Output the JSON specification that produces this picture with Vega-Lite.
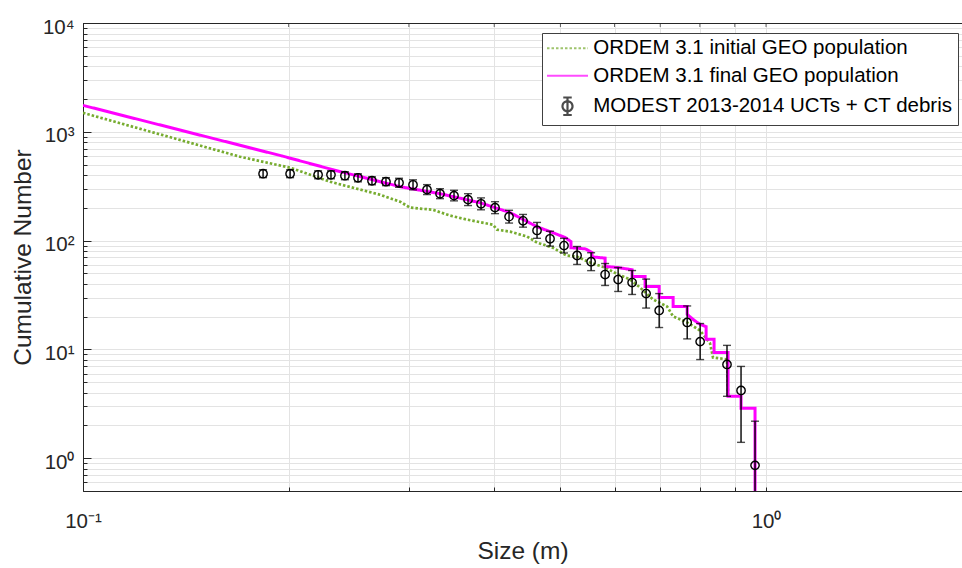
{
  "$schema": "https://vega.github.io/schema/vega-lite/v6.json",
  "autosize": {"type": "none"},
  "padding": {"left": 83, "top": 23, "right": 0, "bottom": 77},
  "width": 879,
  "height": 468,
  "config": {
    "font": "Liberation Sans",
    "view": {"stroke": null},
    "axis": {"labelFont": "Liberation Sans", "titleFont": "Liberation Sans"}
  },
  "datasets": {
    "xticks": [
      {"x": 0.2}, {"x": 0.3}, {"x": 0.4}, {"x": 0.5}, {"x": 0.6}, {"x": 0.7}, {"x": 0.8}, {"x": 0.9}, {"x": 1}
    ],
    "lines": [
      {"s": "ORDEM 3.1 initial GEO population", "i": 1, "x": 0.1, "y": 1494},
      {"s": "ORDEM 3.1 initial GEO population", "i": 2, "x": 0.1698, "y": 590},
      {"s": "ORDEM 3.1 initial GEO population", "i": 3, "x": 0.201, "y": 468},
      {"s": "ORDEM 3.1 initial GEO population", "i": 4, "x": 0.2299, "y": 348},
      {"s": "ORDEM 3.1 initial GEO population", "i": 5, "x": 0.2722, "y": 264},
      {"s": "ORDEM 3.1 initial GEO population", "i": 6, "x": 0.2912, "y": 228},
      {"s": "ORDEM 3.1 initial GEO population", "i": 7, "x": 0.3012, "y": 201},
      {"s": "ORDEM 3.1 initial GEO population", "i": 8, "x": 0.3254, "y": 192},
      {"s": "ORDEM 3.1 initial GEO population", "i": 9, "x": 0.3445, "y": 170},
      {"s": "ORDEM 3.1 initial GEO population", "i": 10, "x": 0.3649, "y": 156},
      {"s": "ORDEM 3.1 initial GEO population", "i": 11, "x": 0.3984, "y": 140},
      {"s": "ORDEM 3.1 initial GEO population", "i": 12, "x": 0.4038, "y": 126},
      {"s": "ORDEM 3.1 initial GEO population", "i": 13, "x": 0.4219, "y": 121},
      {"s": "ORDEM 3.1 initial GEO population", "i": 14, "x": 0.4467, "y": 109},
      {"s": "ORDEM 3.1 initial GEO population", "i": 15, "x": 0.4621, "y": 96},
      {"s": "ORDEM 3.1 initial GEO population", "i": 16, "x": 0.4876, "y": 86},
      {"s": "ORDEM 3.1 initial GEO population", "i": 17, "x": 0.511, "y": 72.8},
      {"s": "ORDEM 3.1 initial GEO population", "i": 18, "x": 0.5289, "y": 71.2},
      {"s": "ORDEM 3.1 initial GEO population", "i": 19, "x": 0.5526, "y": 62.8},
      {"s": "ORDEM 3.1 initial GEO population", "i": 20, "x": 0.5813, "y": 56.5},
      {"s": "ORDEM 3.1 initial GEO population", "i": 21, "x": 0.6074, "y": 48.8},
      {"s": "ORDEM 3.1 initial GEO population", "i": 22, "x": 0.6325, "y": 43.9},
      {"s": "ORDEM 3.1 initial GEO population", "i": 23, "x": 0.6541, "y": 37.0},
      {"s": "ORDEM 3.1 initial GEO population", "i": 24, "x": 0.6832, "y": 28.8},
      {"s": "ORDEM 3.1 initial GEO population", "i": 25, "x": 0.7163, "y": 24.8},
      {"s": "ORDEM 3.1 initial GEO population", "i": 26, "x": 0.7311, "y": 20.1},
      {"s": "ORDEM 3.1 initial GEO population", "i": 27, "x": 0.7666, "y": 17.7},
      {"s": "ORDEM 3.1 initial GEO population", "i": 28, "x": 0.8008, "y": 14.9},
      {"s": "ORDEM 3.1 initial GEO population", "i": 29, "x": 0.8279, "y": 11.4},
      {"s": "ORDEM 3.1 initial GEO population", "i": 30, "x": 0.8363, "y": 8.44},
      {"s": "ORDEM 3.1 initial GEO population", "i": 31, "x": 0.8767, "y": 8.1},
      {"s": "ORDEM 3.1 initial GEO population", "i": 32, "x": 0.8798, "y": 3.71},
      {"s": "ORDEM 3.1 final GEO population", "i": 1, "x": 0.1, "y": 1750},
      {"s": "ORDEM 3.1 final GEO population", "i": 2, "x": 0.1956, "y": 600},
      {"s": "ORDEM 3.1 final GEO population", "i": 3, "x": 0.2323, "y": 448},
      {"s": "ORDEM 3.1 final GEO population", "i": 4, "x": 0.2912, "y": 313},
      {"s": "ORDEM 3.1 final GEO population", "i": 5, "x": 0.3332, "y": 270},
      {"s": "ORDEM 3.1 final GEO population", "i": 6, "x": 0.3813, "y": 223},
      {"s": "ORDEM 3.1 final GEO population", "i": 7, "x": 0.4219, "y": 181},
      {"s": "ORDEM 3.1 final GEO population", "i": 8, "x": 0.4621, "y": 134},
      {"s": "ORDEM 3.1 final GEO population", "i": 9, "x": 0.4828, "y": 121},
      {"s": "ORDEM 3.1 final GEO population", "i": 10, "x": 0.5078, "y": 107},
      {"s": "ORDEM 3.1 final GEO population", "i": 11, "x": 0.5181, "y": 98},
      {"s": "ORDEM 3.1 final GEO population", "i": 12, "x": 0.5181, "y": 86},
      {"s": "ORDEM 3.1 final GEO population", "i": 13, "x": 0.5437, "y": 84},
      {"s": "ORDEM 3.1 final GEO population", "i": 14, "x": 0.5562, "y": 78},
      {"s": "ORDEM 3.1 final GEO population", "i": 15, "x": 0.5562, "y": 71},
      {"s": "ORDEM 3.1 final GEO population", "i": 16, "x": 0.5813, "y": 69},
      {"s": "ORDEM 3.1 final GEO population", "i": 17, "x": 0.5813, "y": 58},
      {"s": "ORDEM 3.1 final GEO population", "i": 18, "x": 0.6074, "y": 56.5},
      {"s": "ORDEM 3.1 final GEO population", "i": 19, "x": 0.6367, "y": 54},
      {"s": "ORDEM 3.1 final GEO population", "i": 20, "x": 0.6367, "y": 46.7},
      {"s": "ORDEM 3.1 final GEO population", "i": 21, "x": 0.6652, "y": 46.7},
      {"s": "ORDEM 3.1 final GEO population", "i": 22, "x": 0.6652, "y": 37.9},
      {"s": "ORDEM 3.1 final GEO population", "i": 23, "x": 0.6975, "y": 37.9},
      {"s": "ORDEM 3.1 final GEO population", "i": 24, "x": 0.6975, "y": 30},
      {"s": "ORDEM 3.1 final GEO population", "i": 25, "x": 0.7311, "y": 30},
      {"s": "ORDEM 3.1 final GEO population", "i": 26, "x": 0.7311, "y": 24.8},
      {"s": "ORDEM 3.1 final GEO population", "i": 27, "x": 0.7666, "y": 24.8},
      {"s": "ORDEM 3.1 final GEO population", "i": 28, "x": 0.7666, "y": 21},
      {"s": "ORDEM 3.1 final GEO population", "i": 29, "x": 0.785, "y": 18.5},
      {"s": "ORDEM 3.1 final GEO population", "i": 30, "x": 0.8008, "y": 17},
      {"s": "ORDEM 3.1 final GEO population", "i": 31, "x": 0.8171, "y": 16.2},
      {"s": "ORDEM 3.1 final GEO population", "i": 32, "x": 0.8171, "y": 12.4},
      {"s": "ORDEM 3.1 final GEO population", "i": 33, "x": 0.8393, "y": 12.4},
      {"s": "ORDEM 3.1 final GEO population", "i": 34, "x": 0.8393, "y": 9.39},
      {"s": "ORDEM 3.1 final GEO population", "i": 35, "x": 0.8798, "y": 9.39},
      {"s": "ORDEM 3.1 final GEO population", "i": 36, "x": 0.8798, "y": 3.71},
      {"s": "ORDEM 3.1 final GEO population", "i": 37, "x": 0.9192, "y": 3.71},
      {"s": "ORDEM 3.1 final GEO population", "i": 38, "x": 0.9192, "y": 2.88},
      {"s": "ORDEM 3.1 final GEO population", "i": 39, "x": 0.9636, "y": 2.88},
      {"s": "ORDEM 3.1 final GEO population", "i": 40, "x": 0.9636, "y": 0.3}
    ],
    "modest": [
      {"x": 0.1835, "y": 412, "lo": 379, "hi": 448},
      {"x": 0.2010, "y": 412, "lo": 379, "hi": 448},
      {"x": 0.2209, "y": 403, "lo": 370, "hi": 438},
      {"x": 0.2307, "y": 403, "lo": 370, "hi": 438},
      {"x": 0.2418, "y": 395, "lo": 363, "hi": 430},
      {"x": 0.2527, "y": 378, "lo": 347, "hi": 411},
      {"x": 0.2649, "y": 355, "lo": 326, "hi": 386},
      {"x": 0.2777, "y": 348, "lo": 320, "hi": 379},
      {"x": 0.2902, "y": 340, "lo": 309, "hi": 374},
      {"x": 0.3042, "y": 326, "lo": 293, "hi": 362},
      {"x": 0.3189, "y": 294, "lo": 265, "hi": 327},
      {"x": 0.3332, "y": 270, "lo": 243, "hi": 300},
      {"x": 0.3493, "y": 259, "lo": 232, "hi": 290},
      {"x": 0.3662, "y": 238, "lo": 210, "hi": 270},
      {"x": 0.3826, "y": 218, "lo": 192, "hi": 247},
      {"x": 0.4011, "y": 201, "lo": 177, "hi": 228},
      {"x": 0.4205, "y": 166, "lo": 145, "hi": 190},
      {"x": 0.4408, "y": 152, "lo": 133, "hi": 174},
      {"x": 0.4621, "y": 124, "lo": 105, "hi": 147},
      {"x": 0.4828, "y": 104, "lo": 89, "hi": 122},
      {"x": 0.5061, "y": 90, "lo": 77, "hi": 105},
      {"x": 0.5289, "y": 73, "lo": 60.4, "hi": 88.3},
      {"x": 0.5545, "y": 64, "lo": 53, "hi": 77.4},
      {"x": 0.5813, "y": 48.8, "lo": 38.7, "hi": 61.6},
      {"x": 0.6074, "y": 43.9, "lo": 34.1, "hi": 56.6},
      {"x": 0.6367, "y": 41.2, "lo": 32.0, "hi": 53.1},
      {"x": 0.6675, "y": 32.6, "lo": 24.0, "hi": 44.3},
      {"x": 0.6975, "y": 22.8, "lo": 15.9, "hi": 32.6},
      {"x": 0.7666, "y": 17.7, "lo": 12.5, "hi": 25.1},
      {"x": 0.8008, "y": 11.8, "lo": 8.07, "hi": 17.3},
      {"x": 0.8767, "y": 7.28, "lo": 3.71, "hi": 10.9},
      {"x": 0.9192, "y": 4.2, "lo": 1.40, "hi": 6.98},
      {"x": 0.9636, "y": 0.86, "lo": 0.3, "hi": 2.19}
    ]
  },
  "layer": [
    {
      "data": {"name": "lines"},
      "mark": {"type": "line", "clip": true},
      "encoding": {
        "x": {
          "field": "x", "type": "quantitative",
          "scale": {"type": "log", "domain": [0.1, 1.936], "nice": false},
          "axis": {
            "orient": "bottom",
            "values": [0.1, 0.2, 0.3, 0.4, 0.5, 0.6, 0.7, 0.8, 0.9, 1],
            "labelExpr": "datum.value === 0.1 ? '10⁻¹' : datum.value === 1 ? '10⁰' : ''",
            "labelOverlap": false, "labelFlush": false,
            "labelFontSize": 20.5, "labelColor": "#262626", "labelPadding": 24,
            "tickSize": -4, "tickColor": "#262626", "tickWidth": 1,
            "domainColor": "#262626", "domainWidth": 1,
            "grid": true, "gridColor": "#e3e3e3", "gridWidth": 1,
            "title": "Size (m)", "titleFontSize": 24.5, "titleFontWeight": "normal",
            "titleColor": "#262626", "titlePadding": 8
          }
        },
        "y": {
          "field": "y", "type": "quantitative",
          "scale": {"type": "log", "domain": [0.5, 10000], "nice": false},
          "axis": {
            "orient": "left",
            "values": [0.5, 0.6, 0.7, 0.8, 0.9, 1, 2, 3, 4, 5, 6, 7, 8, 9, 10, 20, 30, 40, 50, 60, 70, 80, 90, 100, 200, 300, 400, 500, 600, 700, 800, 900, 1000, 2000, 3000, 4000, 5000, 6000, 7000, 8000, 9000, 10000],
            "labelExpr": "datum.value === 1 ? '10⁰' : datum.value === 10 ? '10¹' : datum.value === 100 ? '10²' : datum.value === 1000 ? '10³' : datum.value === 10000 ? '10⁴' : ''",
            "labelOverlap": false, "labelFlush": false,
            "labelFontSize": 20.5, "labelColor": "#262626", "labelPadding": 17, "labelOffset": 4,
            "tickSize": {"condition": {"test": "indexof([1, 10, 100, 1000, 10000], datum.value) >= 0", "value": -8}, "value": -4},
            "tickColor": "#262626", "tickWidth": 1,
            "domainColor": "#262626", "domainWidth": 1,
            "grid": true, "gridColor": "#e3e3e3", "gridWidth": 1,
            "title": "Cumulative Number", "titleFontSize": 24.5, "titleFontWeight": "normal",
            "titleColor": "#262626", "titlePadding": 7
          }
        },
        "color": {
          "field": "s", "type": "nominal",
          "scale": {
            "domain": ["ORDEM 3.1 initial GEO population", "ORDEM 3.1 final GEO population", "MODEST 2013-2014 UCTs + CT debris"],
            "range": ["#77AC30", "#FF00FF", "#000000"]
          },
          "legend": {
            "title": null, "orient": "none", "legendX": 459, "legendY": 10,
            "padding": 5, "strokeColor": "#404040", "fillColor": "#ffffff",
            "labelFont": "Liberation Sans", "labelFontSize": 20.5, "labelColor": "#000000",
            "labelLimit": 600, "symbolSize": 100, "symbolStrokeWidth": 2.2,
            "symbolFillColor": "transparent", "symbolOffset": 10.25, "labelOffset": 15.5,
            "rowPadding": 6.5, "labelBaseline": "middle"
          }
        },
        "strokeDash": {
          "field": "s", "type": "nominal",
          "scale": {
            "domain": ["ORDEM 3.1 initial GEO population", "ORDEM 3.1 final GEO population", "MODEST 2013-2014 UCTs + CT debris"],
            "range": [[2.5, 2], [1, 0], [1, 0]]
          }
        },
        "strokeWidth": {"condition": {"test": "datum.s === 'ORDEM 3.1 final GEO population'", "value": 3}, "value": 2.7},
        "order": {"field": "i", "type": "quantitative"}
      }
    },
    {
      "data": {"name": "lines"},
      "transform": [{"filter": "datum.i < 0"}],
      "mark": {"type": "point", "filled": false},
      "encoding": {
        "x": {"field": "x", "type": "quantitative"},
        "y": {"field": "y", "type": "quantitative"},
        "color": {"field": "s", "type": "nominal"},
        "shape": {
          "field": "s", "type": "nominal",
          "scale": {
            "domain": ["ORDEM 3.1 initial GEO population", "ORDEM 3.1 final GEO population", "MODEST 2013-2014 UCTs + CT debris"],
            "range": ["M-4.1,0H4.1", "M-4.1,0H4.1", "M-1,0A1,1 0 1,0 1,0A1,1 0 1,0 -1,0M0,-1.75V1.75M-0.85,-1.75H0.85M-0.85,1.75H0.85"]
          }
        }
      }
    },
    {
      "data": {"name": "xticks"},
      "mark": {"type": "rule", "clip": true, "color": "#262626", "strokeWidth": 1},
      "encoding": {
        "y": {"datum": 10000, "type": "quantitative"}
      }
    },
    {
      "data": {"name": "xticks"},
      "mark": {"type": "tick", "orient": "vertical", "clip": true, "color": "#262626", "size": 8, "thickness": 1},
      "encoding": {
        "x": {"field": "x", "type": "quantitative"},
        "y": {"datum": 10000, "type": "quantitative"}
      }
    },
    {
      "data": {"name": "modest"},
      "mark": {"type": "rule", "clip": true, "color": "#000000", "strokeWidth": 1.4},
      "encoding": {
        "x": {"field": "x", "type": "quantitative"},
        "y": {"field": "lo", "type": "quantitative"},
        "y2": {"field": "hi"}
      }
    },
    {
      "data": {"name": "modest"},
      "mark": {"type": "tick", "orient": "horizontal", "clip": true, "color": "#000000", "size": 8, "thickness": 1.4},
      "encoding": {
        "x": {"field": "x", "type": "quantitative"},
        "y": {"field": "lo", "type": "quantitative"}
      }
    },
    {
      "data": {"name": "modest"},
      "mark": {"type": "tick", "orient": "horizontal", "clip": true, "color": "#000000", "size": 8, "thickness": 1.4},
      "encoding": {
        "x": {"field": "x", "type": "quantitative"},
        "y": {"field": "hi", "type": "quantitative"}
      }
    },
    {
      "data": {"name": "modest"},
      "mark": {"type": "point", "shape": "circle", "filled": false, "clip": true, "stroke": "#000000", "strokeWidth": 1.4, "size": 70, "opacity": 1},
      "encoding": {
        "x": {"field": "x", "type": "quantitative"},
        "y": {"field": "y", "type": "quantitative"}
      }
    }
  ]
}
